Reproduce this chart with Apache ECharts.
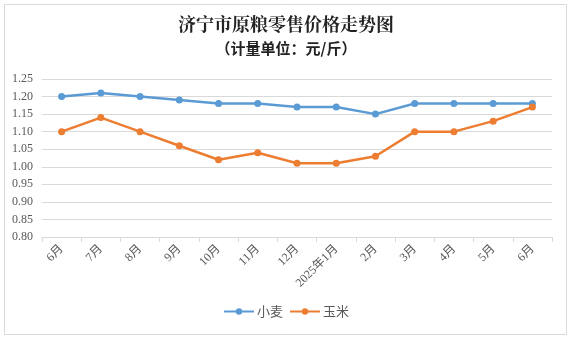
<!DOCTYPE html>
<html><head><meta charset="utf-8">
<script src="https://cdn.jsdelivr.net/npm/echarts@6/dist/echarts.min.js"></script>
<style>html,body{margin:0;padding:0;background:#fff}#c{width:572px;height:340px}</style>
</head><body><div id="c"></div>
<script>
const categories = ['6月','7月','8月','9月','10月','11月','12月','2025年1月','2月','3月','4月','5月','6月'];
const wheat = [1.20,1.21,1.20,1.19,1.18,1.18,1.17,1.17,1.15,1.18,1.18,1.18,1.18];
const corn = [1.10,1.14,1.10,1.06,1.02,1.04,1.01,1.01,1.03,1.10,1.10,1.13,1.17];
const seriesNames = ['小麦','玉米'];
const chart = echarts.init(document.getElementById('c'));
chart.setOption({
  animation:false,
  graphic:[{type:'rect',shape:{x:4.5,y:4.5,width:562,height:330},style:{fill:'none',stroke:'#d9d9d9',lineWidth:1}}],
  title:[
    {text:'济宁市原粮零售价格走势图',left:'center',top:10,textStyle:{fontFamily:'Noto Serif CJK SC, Noto Sans CJK SC, serif',fontSize:18,fontWeight:'bold',color:'#222'}},
    {text:'（计量单位：元/斤）',left:'center',top:36,textStyle:{fontFamily:'Noto Sans CJK SC, sans-serif',fontSize:15,fontWeight:'bold',color:'#222'}}
  ],
  legend:{bottom:17,left:'center',itemWidth:30,itemHeight:8,itemGap:6,textStyle:{fontSize:13,color:'#595959',fontFamily:'Noto Sans CJK SC',padding:[0,0,0,-2]},data:seriesNames},
  grid:{left:42,right:20,top:79,bottom:103},
  xAxis:{type:'category',data:categories,boundaryGap:true,
    axisLine:{lineStyle:{color:'#d9d9d9'}},axisTick:{show:true,lineStyle:{color:'#d9d9d9'},length:5},
    axisLabel:{rotate:45,interval:0,fontSize:12,color:'#595959',fontFamily:'Liberation Serif, Noto Sans CJK SC',margin:10}},
  yAxis:{type:'value',min:0.80,max:1.25,interval:0.05,
    axisLine:{show:false},axisTick:{show:false},
    splitLine:{lineStyle:{color:'#d9d9d9'}},
    axisLabel:{fontSize:12,color:'#595959',fontFamily:'Liberation Serif',formatter:v=>v.toFixed(2),margin:9}},
  series:[
    {name:seriesNames[0],type:'line',data:wheat,symbol:'circle',symbolSize:7,lineStyle:{width:2.5,color:'#5B9BD5'},itemStyle:{color:'#5B9BD5'}},
    {name:seriesNames[1],type:'line',data:corn,symbol:'circle',symbolSize:7,lineStyle:{width:2.5,color:'#ED7D31'},itemStyle:{color:'#ED7D31'}}
  ]
});
</script></body></html>
